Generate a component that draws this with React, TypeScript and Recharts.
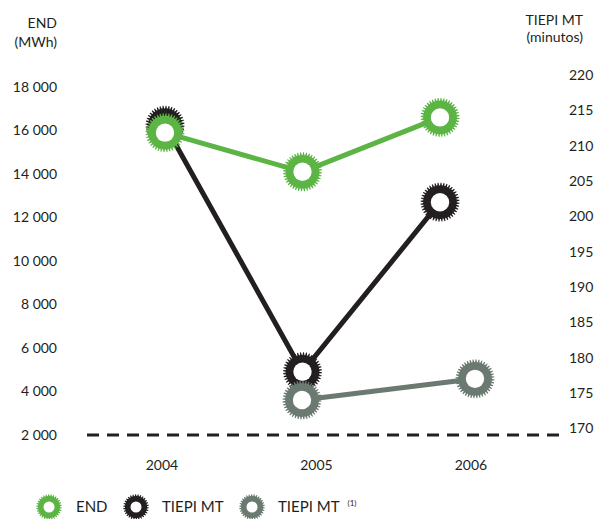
import React from 'react';
import { LineChart, Line, XAxis, YAxis, ReferenceLine, Legend } from 'recharts';

const years = ['2004', '2005', '2006'];
const endValues = [15900, 14100, 16600];
const tiepiValues = [212.9, 178, 202];
const tiepi1Values: (number | null)[] = [null, 174, 177];
const leftTicks = [2000, 4000, 6000, 8000, 10000, 12000, 14000, 16000, 18000];
const rightTicks = [170, 175, 180, 185, 190, 195, 200, 205, 210, 215, 220];
const seriesNames = ['END', 'TIEPI MT', 'TIEPI MT'];

const GREEN = '#5bb443';
const BLACK = '#231f20';
const GRAY = '#6b7a70';
const TEXT = '#231f20';
const FONT = 'Lato, "Open Sans", sans-serif';

const rows = years.map((y, i) => ({
  year: y,
  end: endValues[i],
  tiepi: tiepiValues[i],
  tiepi1: tiepi1Values[i],
}));

function gearPath(cx: number, cy: number, r: number, teeth: number) {
  const inner = r * 0.86;
  const step = (Math.PI * 2) / teeth;
  const pts: string[] = [];
  for (let i = 0; i < teeth; i++) {
    const a = i * step;
    const seq: [number, number][] = [
      [inner, a],
      [r, a + step * 0.2],
      [r, a + step * 0.5],
      [inner, a + step * 0.7],
    ];
    seq.forEach(([rr, aa]) => {
      pts.push(`${(cx + rr * Math.cos(aa)).toFixed(2)},${(cy + rr * Math.sin(aa)).toFixed(2)}`);
    });
  }
  return 'M' + pts.join('L') + 'Z';
}

function Gear({ cx, cy, r, hole, color, teeth }: { cx: number; cy: number; r: number; hole: number; color: string; teeth: number }) {
  return (
    <g>
      <path d={gearPath(cx, cy, r, teeth)} fill={color} />
      <circle cx={cx} cy={cy} r={hole} fill="#ffffff" />
    </g>
  );
}

const renderDot = (color: string) => (props: any) => {
  const { cx, cy, index } = props;
  if (cx == null || cy == null || props.value == null) return <g key={`d-${index}`} />;
  return (
    <g key={`d-${color}-${index}`}>
      <Gear cx={cx} cy={cy} r={19.5} hole={9.2} color={color} teeth={40} />
    </g>
  );
};

const fmt = (v: number) => v.toLocaleString('en-US').replace(/,/g, ' ');

const LegendContent = () => {
  const colors = [GREEN, BLACK, GRAY];
  const gearX = [49, 136, 252];
  const textX = [76, 162, 278];
  return (
    <svg width={596} height={28} style={{ display: 'block' }}>
      {seriesNames.map((n, i) => (
        <g key={i}>
          <Gear cx={gearX[i]} cy={14} r={12.8} hole={5.5} color={colors[i]} teeth={30} />
          <text x={textX[i]} y={19} fill={TEXT} fontSize={15} fontFamily={FONT}>
            {n}
            {i === 2 ? (
              <tspan dx={8} dy={-6} fontSize={8}>
                (1)
              </tspan>
            ) : null}
          </text>
        </g>
      ))}
    </svg>
  );
};

const LeftTitle = () => (
  <text fill={TEXT} fontSize={14} fontFamily={FONT} textAnchor="end">
    <tspan x={57} y={28}>END</tspan>
    <tspan x={57} y={47}>(MWh)</tspan>
  </text>
);

const RightTitle = () => (
  <text fill={TEXT} fontSize={14} fontFamily={FONT} textAnchor="end">
    <tspan x={583} y={25}>TIEPI MT</tspan>
    <tspan x={583} y={42}>(minutos)</tspan>
  </text>
);

export default function App() {
  const tick = { fill: TEXT, fontSize: 14, fontFamily: FONT };
  return (
    <div style={{ position: 'absolute', left: 0, top: 0, width: 596, height: 519, background: '#fff' }}>
      <LineChart width={596} height={519} data={rows} margin={{ top: 75, right: 0, bottom: 26, left: 0 }}>
        <XAxis
          xAxisId="lbl"
          dataKey="year"
          axisLine={false}
          tickLine={false}
          tickSize={0}
          tickMargin={25}
          height={30}
          padding={{ left: 75, right: 89 }}
          tick={tick}
        />
        <XAxis xAxisId="main" dataKey="year" hide height={0} padding={{ left: 78, right: 120 }} />
        <XAxis xAxisId="gray" dataKey="year" hide height={0} padding={{ left: 42, right: 85 }} />
        <YAxis
          yAxisId="left"
          width={87}
          domain={[2000, 18550]}
          ticks={leftTicks}
          tickFormatter={fmt}
          axisLine={false}
          tickLine={false}
          tickSize={0}
          tickMargin={30}
          tick={tick}
          label={{ content: () => <LeftTitle /> }}
        />
        <YAxis
          yAxisId="right"
          orientation="right"
          width={36}
          domain={[169.05, 220]}
          ticks={rightTicks}
          axisLine={false}
          tickLine={false}
          tickSize={0}
          tickMargin={9}
          tick={{ ...tick, textAnchor: 'start' }}
          label={{ content: () => <RightTitle /> }}
        />
        <ReferenceLine
          xAxisId="lbl"
          yAxisId="left"
          y={2000}
          stroke={BLACK}
          strokeWidth={3}
          strokeDasharray="12 8"
        />
        <Legend content={() => <LegendContent />} wrapperStyle={{ top: 493, left: 0, width: 596, height: 28 }} />
        <Line
          xAxisId="main"
          yAxisId="right"
          dataKey="tiepi"
          stroke={BLACK}
          strokeWidth={5}
          dot={renderDot(BLACK)}
          activeDot={false}
          isAnimationActive={false}
        />
        <Line
          xAxisId="gray"
          yAxisId="right"
          dataKey="tiepi1"
          stroke={GRAY}
          strokeWidth={5}
          dot={renderDot(GRAY)}
          activeDot={false}
          isAnimationActive={false}
        />
        <Line
          xAxisId="main"
          yAxisId="left"
          dataKey="end"
          stroke={GREEN}
          strokeWidth={5}
          dot={renderDot(GREEN)}
          activeDot={false}
          isAnimationActive={false}
        />
      </LineChart>
    </div>
  );
}
